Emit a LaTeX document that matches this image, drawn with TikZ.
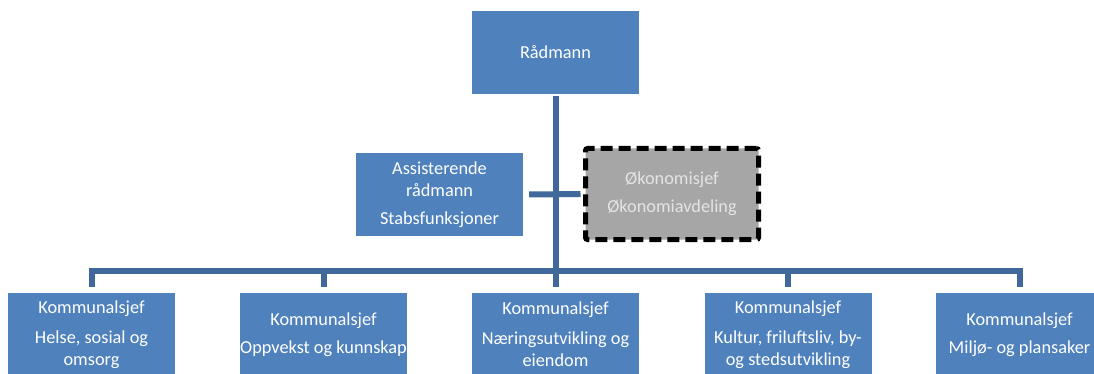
\documentclass[tikz,border=0pt]{standalone}
\usepackage{fontspec}
\setmainfont{Carlito}
\definecolor{boxblue}{HTML}{4F81BD}
\definecolor{lineblue}{HTML}{41689A}
\definecolor{okogray}{HTML}{A6A6A6}
\definecolor{okotext}{HTML}{E4E4E4}
\tikzset{
	unit/.style={fill=boxblue, text=white, minimum width=167pt, minimum height=83pt,
		align=center, inner sep=0pt, font=\fontsize{18.3}{22}\selectfont},
	okobox/.style={fill=okogray, draw=black, line width=5pt, dash pattern=on 12pt off 6pt,
		rounded corners=2pt, text=okotext, minimum width=173pt, minimum height=91pt,
		align=center, inner sep=0pt, font=\fontsize{18.3}{22}\selectfont},
	conn/.style={draw=lineblue, line width=6pt}
}
\begin{document}
\begin{tikzpicture}[x=1pt, y=-1pt]
				
				% Frame
				\useasboundingbox (0,0) rectangle (1094,374);
				\clip (0,0) rectangle (1094,374);
				
				% Top and staff boxes
				\node[unit] (top) at (555.5,52.5) {Rådmann};
				\node[unit] (asst) at (439.5,194.5) {Assisterende\\rådmann\\[6pt]Stabsfunksjoner};
				\node[okobox] (oko) at (672,194) {Økonomisjef\\[6pt]Økonomiavdeling};
				
				% Kommunalsjef boxes
				\node[unit] (k1) at (91.5,334.5) {Kommunalsjef\\[8pt]Helse, sosial og\\omsorg};
				\node[unit] (k2) at (323.5,334.5) {Kommunalsjef\\[6pt]Oppvekst og kunnskap};
				\node[unit] (k3) at (555.5,334.5) {Kommunalsjef\\[8pt]Næringsutvikling og\\eiendom};
				\node[unit] (k4) at (788,334.5) {Kommunalsjef\\[8pt]Kultur, friluftsliv, by-\\og stedsutvikling};
				\node[unit] (k5) at (1019.5,334.5) {Kommunalsjef\\[6pt]Miljø- og plansaker};
				
				% Hub on the trunk
				\coordinate (hub) at (556,271);
				
				% Trunk and staff line
				\draw[conn] ([yshift=-2pt]top.south) -- ([yshift=6pt]k3.north);
				\draw[conn, shorten >=2.5pt] ([xshift=6pt]asst.east) -- (oko.west);
				
				% Bar and drops
				\draw[conn] ([yshift=6pt]k1.north) |- (hub) -| ([yshift=6pt]k5.north);
				\draw[conn] ([yshift=6pt]k2.north) -- (k2.north |- hub);
				\draw[conn] ([yshift=6pt]k4.north) -- (k4.north |- hub);
				
			\end{tikzpicture}
\end{document}
